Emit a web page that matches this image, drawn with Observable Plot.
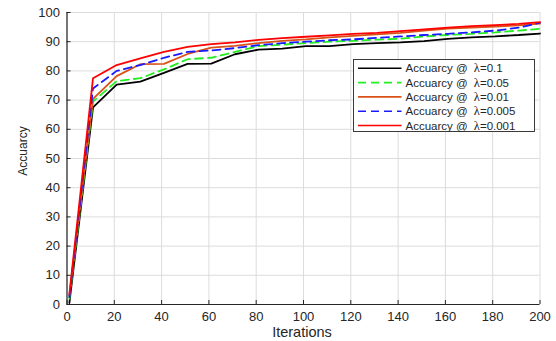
<!DOCTYPE html>
<html><head><meta charset="utf-8">
<script src="https://cdn.jsdelivr.net/npm/d3@7"></script>
<script src="https://cdn.jsdelivr.net/npm/@observablehq/plot@0.6"></script>
<style>body{margin:0;background:#fff;} #chart svg{display:block;}</style>
</head><body><div id="chart"></div>
<script>
const iterations = [1, 11, 21, 31, 41, 51, 61, 71, 81, 91, 101, 111, 121, 131, 141, 151, 161, 171, 181, 191, 200];
const acc_0_1   = [0.5, 67.5, 75.3, 76.3, 79.3, 82.4, 82.5, 85.7, 87.3, 87.6, 88.5, 88.5, 89.2, 89.5, 89.8, 90.2, 91.0, 91.5, 91.8, 92.3, 92.8];
const acc_0_05  = [2.0, 69.5, 76.5, 77.5, 80.5, 84.0, 84.5, 86.5, 88.5, 89.0, 89.5, 90.0, 90.3, 90.7, 91.0, 91.8, 92.3, 92.7, 93.2, 93.8, 94.4];
const acc_0_01  = [3.0, 70.4, 78.2, 82.3, 82.4, 85.8, 88.0, 88.6, 89.5, 90.3, 90.8, 91.5, 92.0, 92.5, 93.0, 93.8, 94.5, 94.8, 95.2, 95.6, 96.2];
const acc_0_005 = [2.5, 74.0, 80.0, 82.0, 84.5, 86.5, 87.0, 87.8, 88.8, 89.5, 90.0, 90.5, 90.8, 91.3, 91.8, 92.3, 92.7, 93.2, 93.8, 94.8, 96.5];
const acc_0_001 = [3.5, 77.5, 82.0, 84.3, 86.5, 88.2, 89.2, 89.8, 90.6, 91.2, 91.7, 92.2, 92.7, 93.0, 93.6, 94.2, 94.8, 95.3, 95.7, 96.1, 96.7];

const seriesNames  = ["λ=0.1", "λ=0.05", "λ=0.01", "λ=0.005", "λ=0.001"];
const seriesValues = [acc_0_1, acc_0_05, acc_0_01, acc_0_005, acc_0_001];
const seriesColors = ["#000000", "#22ee22", "#d95319", "#1a1aff", "#ff0000"];
const seriesDash   = [null, "8,5", null, "8,5", null];

const xTicks = [0, 20, 40, 60, 80, 100, 120, 140, 160, 180, 200];
const yTicks = [0, 10, 20, 30, 40, 50, 60, 70, 80, 90, 100];
const xLabel = "Iterations";
const yLabel = "Accuarcy";
const legendPrefix = "Accuarcy @ ";

const font = "'Liberation Sans', Arial, Helvetica, sans-serif";
const axisColor = "#262626";

const lineMarks = seriesValues.map((vals, i) =>
  Plot.line(iterations.map((x, j) => ({x, y: vals[j]})), {
    x: "x", y: "y", stroke: seriesColors[i], strokeWidth: 1.8,
    strokeDasharray: seriesDash[i] || undefined, strokeLinejoin: "miter"
  })
);

const chart = Plot.plot({
  width: 556, height: 341,
  marginLeft: 66.5, marginRight: 16.5, marginTop: 12, marginBottom: 37,
  style: {fontFamily: font, background: "#fff", overflow: "visible"},
  x: {domain: [0, 200]},
  y: {domain: [0, 100]},
  marks: [
    Plot.gridX(xTicks, {stroke: "#dcdcdc", strokeOpacity: 1, strokeWidth: 1}),
    Plot.gridY(yTicks, {stroke: "#dcdcdc", strokeOpacity: 1, strokeWidth: 1}),
    ...lineMarks,
    Plot.ruleY([0], {stroke: axisColor, strokeWidth: 1.2}),
    Plot.ruleX([0], {stroke: axisColor, strokeWidth: 1.2}),
    Plot.axisX({ticks: xTicks, tickSize: 0, tickPadding: 7, fontSize: 13, color: axisColor, label: null}),
    Plot.axisX({ticks: xTicks, tickSize: -4, tickFormat: () => "", color: axisColor, label: null}),
    Plot.axisY({ticks: yTicks, tickSize: 0, tickPadding: 7, fontSize: 13, color: axisColor, label: null}),
    Plot.axisY({ticks: yTicks, tickSize: -4, tickFormat: () => "", color: axisColor, label: null})
  ]
});

document.getElementById("chart").appendChild(chart);

const svg = d3.select(chart);
// axis titles
svg.append("text").attr("x", 302).attr("y", 336.5).attr("text-anchor", "middle")
  .attr("font-family", font).attr("font-size", 14.5).attr("fill", axisColor).text(xLabel);
svg.append("text").attr("transform", "translate(27,151) rotate(-90)").attr("text-anchor", "middle")
  .attr("font-family", font).attr("font-size", 12).attr("fill", axisColor).text(yLabel);

// legend
const lg = svg.append("g").attr("text-anchor", "start");
lg.append("rect").attr("x", 353.5).attr("y", 59.5).attr("width", 181).attr("height", 72)
  .attr("fill", "#fff").attr("stroke", axisColor).attr("stroke-width", 0.9);
seriesNames.forEach((name, i) => {
  const yy = 68.3 + i * 14.3;
  lg.append("line").attr("x1", 358).attr("x2", 401.5).attr("y1", yy).attr("y2", yy)
    .attr("stroke", seriesColors[i]).attr("stroke-width", 1.6)
    .attr("stroke-dasharray", seriesDash[i]);
  const t = lg.append("text").attr("x", 405.5).attr("y", yy).attr("dy", "0.36em")
    .attr("text-anchor", "start")
    .attr("font-family", font).attr("font-size", 11.5).attr("fill", axisColor);
  t.append("tspan").text(legendPrefix);
  t.append("tspan").attr("dx", 3).attr("font-family", "'Liberation Serif', 'DejaVu Serif', serif").attr("font-size", 12.5).text(name.slice(0, 1));
  t.append("tspan").text(name.slice(1));
});
</script></body></html>
